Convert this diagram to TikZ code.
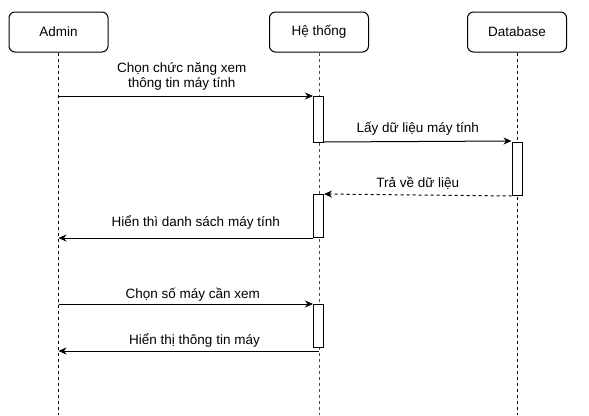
\documentclass[tikz,border=0pt]{standalone}
\usepackage{fontspec}
\setmainfont{Liberation Sans}
\usetikzlibrary{arrows.meta}
\begin{document}
\begin{tikzpicture}[x=1pt,y=-1pt,line width=1pt,
  actor/.style={draw,rounded corners=6pt,minimum width=99pt,minimum height=40pt,
    font=\fontsize{13.5}{15}\selectfont},
  life/.style={line width=0.8pt,dash pattern=on 3pt off 3pt},
  act/.style={draw,fill=white,minimum width=10pt,inner sep=0pt,anchor=north},
  msg/.style={-{Stealth[length=8pt,width=7pt,inset=2.5pt]}},
  ret/.style={msg,dash pattern=on 3pt off 3pt},
  lbl/.style={font=\fontsize{13.5}{15}\selectfont,align=center,inner sep=1pt}]
\useasboundingbox (0,0) rectangle (589,415);
% lifeline heads
\node[actor] (admin) at (58.5,32) {Admin};
\node[actor] (hethong) at (319,32) {Hệ thống};
\node[actor] (db) at (517,32) {Database};
\coordinate (bottom) at (0,415);
\draw[life] (admin.south) -- (admin.south |- bottom);
\draw[life,black!70] (hethong.south) -- (hethong.south |- bottom);
\draw[life] (db.south) -- (db.south |- bottom);
% activations
\node[act,minimum height=46pt] (act1) at (318.5,96) {};
\node[act,minimum height=53pt] (act2) at (517,142) {};
\node[act,minimum height=43pt] (act3) at (318.5,194) {};
\node[act,minimum height=43pt] (act4) at (318.5,304) {};
% messages
\draw[msg] (act1.north west -| admin.south) -- node[lbl,above=4pt,xshift=-4pt]{Chọn chức năng xem\\thông tin máy tính} (act1.north west);
\draw[msg] ([yshift=1pt]act1.south east) -- node[lbl,above=5pt]{Lấy dữ liệu máy tính} ([yshift=1pt]act2.north west);
\draw[ret] (act2.south west) -- node[lbl,above=4pt]{Trả về dữ liệu} (act3.north east);
\draw[msg] (act3.south west) -- node[lbl,above=7pt,xshift=10pt]{Hiển thì danh sách máy tính} (act3.south west -| admin.south);
\draw[msg] (act4.north west -| admin.south) -- node[lbl,above=1pt,xshift=7pt]{Chọn số máy cần xem} (act4.north west);
\draw[msg] ([yshift=-3pt]act4.south) -- node[lbl,above=2pt,xshift=6pt]{Hiển thị thông tin máy} ([yshift=-3pt]act4.south -| admin.south);
\end{tikzpicture}
\end{document}
